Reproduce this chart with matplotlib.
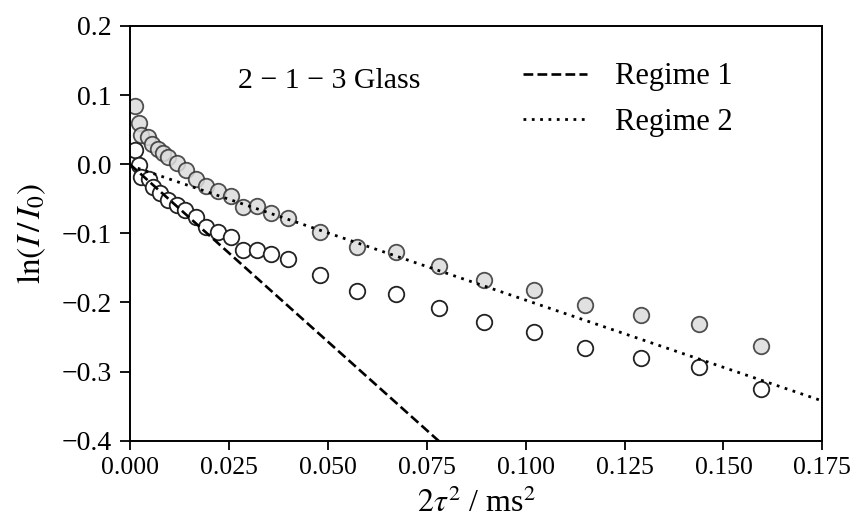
import numpy as np
import matplotlib
matplotlib.use('Agg')
import matplotlib.pyplot as plt

plt.rcParams['font.family'] = ['Liberation Serif', 'DejaVu Serif']
plt.rcParams['mathtext.fontset'] = 'stix'

# gray (filled) series
x_gray = [0.0014, 0.0023, 0.0029, 0.0045, 0.0056, 0.0071, 0.0084, 0.0097, 0.0118, 0.0143,
          0.0166, 0.0193, 0.0223, 0.0255, 0.0286, 0.0322, 0.0357, 0.0399,
          0.0481, 0.0573, 0.0672, 0.0782, 0.0896, 0.1021, 0.1151, 0.1292, 0.1439, 0.1595]
y_gray = [0.0835, 0.0591, 0.0419, 0.0398, 0.0297, 0.0226, 0.0165, 0.0104, 0.0013, -0.0089,
          -0.0220, -0.0322, -0.0383, -0.0464, -0.0616, -0.0606, -0.0707, -0.0778,
          -0.0981, -0.1204, -0.1265, -0.1468, -0.1681, -0.1823, -0.2036, -0.2178, -0.2310, -0.2625]

# white (open) series
x_white = [0.0014, 0.0023, 0.0029, 0.0048, 0.0059, 0.0076, 0.0097, 0.0118, 0.0140, 0.0168,
           0.0193, 0.0223, 0.0255, 0.0286, 0.0322, 0.0357, 0.0399,
           0.0481, 0.0573, 0.0672, 0.0782, 0.0896, 0.1021, 0.1151, 0.1292, 0.1439, 0.1595]
y_white = [0.0206, -0.0018, -0.0190, -0.0220, -0.0332, -0.0423, -0.0525, -0.0596, -0.0667, -0.0758,
           -0.0910, -0.0981, -0.1052, -0.1235, -0.1245, -0.1296, -0.1367,
           -0.1600, -0.1833, -0.1884, -0.2087, -0.2290, -0.2422, -0.2655, -0.2797, -0.2929, -0.3254]

# fitted regimes: (slope, intercept)
regime1 = (-5.13, 0.0)
regime2 = (-1.946, -0.002)

fig = plt.figure(figsize=(8.54, 5.25), dpi=100)
ax = fig.add_axes([0.152, 0.1606, 0.811, 0.790])

xs = np.array([0.0, 0.175])
ax.plot(xs, regime1[0]*xs + regime1[1], 'k--', lw=1.9, label='Regime 1', zorder=3)
ax.plot(xs, regime2[0]*xs + regime2[1], 'k', ls=(0, (1, 2.0)), lw=2.0, label='Regime 2', zorder=3)

ax.scatter(x_gray, y_gray, s=125, facecolor='#dcdcdc', edgecolor='#333333', lw=1.3, alpha=0.85, zorder=2)
ax.scatter(x_white, y_white, s=125, facecolor='white', edgecolor='#222222', lw=1.3, zorder=2)

ax.text(0.0505, 0.121, '2 \u2212 1 \u2212 3 Glass', fontsize=21.5, ha='center', va='center')

ax.set_xlim(0, 0.175)
ax.set_ylim(-0.4, 0.2)
ax.set_xticks(np.arange(0, 0.176, 0.025))
ax.set_xticklabels(['%.3f' % v for v in np.arange(0, 0.176, 0.025)])
ax.set_yticks(np.arange(-0.4, 0.21, 0.1))
ax.tick_params(axis='x', labelsize=18.5, direction='out', length=6.5, width=1.3, pad=5)
ax.tick_params(axis='y', labelsize=20, direction='out', length=7, width=1.3, pad=6)
for s in ax.spines.values():
    s.set_linewidth(1.4)

ax.set_xlabel(r'$2\tau^2$ / ms$^2$', fontsize=23, labelpad=7)
ax.set_ylabel(r'$\mathrm{ln}(I\,/\,I_0)$', fontsize=24, labelpad=10)

ax.legend(loc='upper left', bbox_to_anchor=(0.568, 0.9125), frameon=False, fontsize=22,
          handlelength=2.1, handletextpad=0.9, labelspacing=0.55, borderpad=0, borderaxespad=0)

fig.savefig('out.png', dpi=100)
